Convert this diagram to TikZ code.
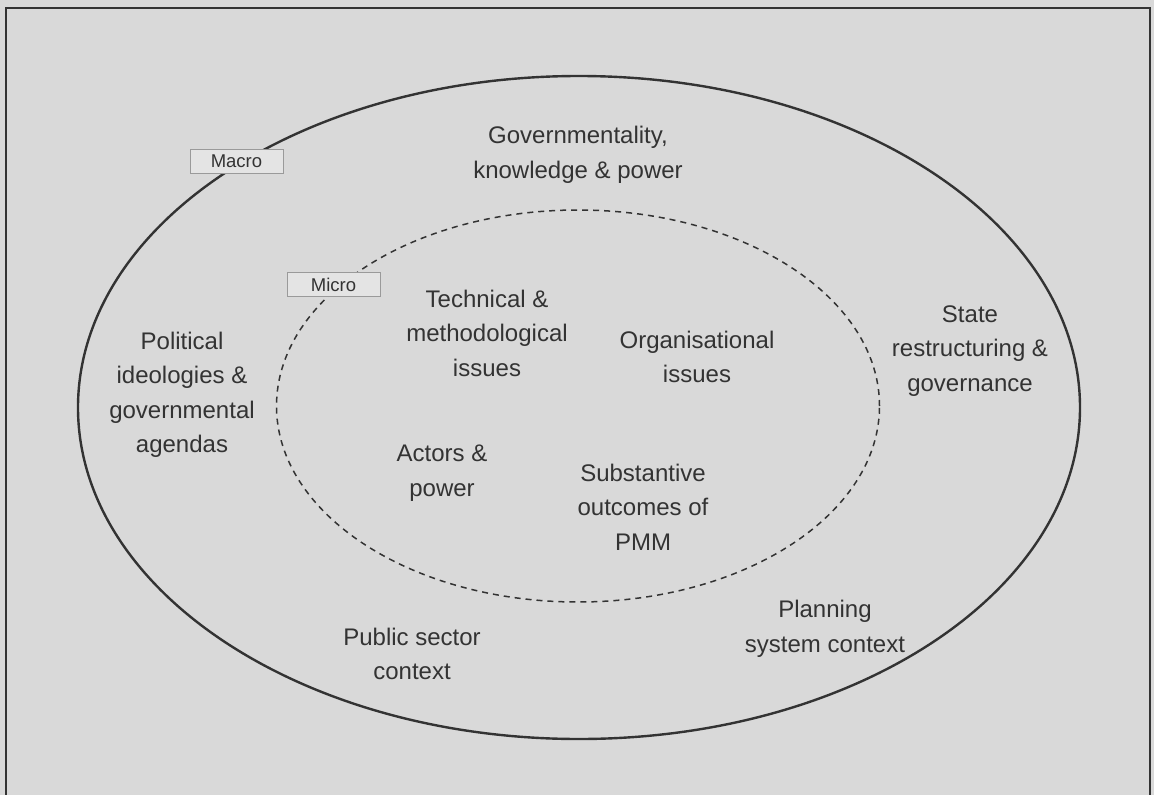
\documentclass[tikz,border=0pt]{standalone}
\usepackage{fontspec}
\setmainfont{Liberation Sans}
\usetikzlibrary{shapes.geometric}
\definecolor{bg}{HTML}{D9D9D9}
\definecolor{ink}{HTML}{333333}
\definecolor{boxfill}{HTML}{E4E4E4}
\definecolor{boxline}{HTML}{9A9A9A}
\begin{document}
\begin{tikzpicture}[x=1pt,y=-1pt,
  lbl/.style={align=center,text=ink,font=\fontsize{24}{34.5}\selectfont,inner sep=0pt},
  tag/.style={draw=boxline,fill=boxfill,text=ink,font=\fontsize{18.5}{20}\selectfont,
    minimum width=93pt,minimum height=24pt,inner sep=0pt,line width=1pt},
  outerring/.style={ellipse,draw=ink,line width=2.4pt,inner sep=0pt},
  innerring/.style={ellipse,draw=ink,line width=1.5pt,dash pattern=on 6pt off 5pt,inner sep=0pt},
  frameline/.style={draw=ink,line width=1.6pt}]
\useasboundingbox (0,0) rectangle (1154,795);
\fill[bg] (0,0) rectangle (1154,795);
\begin{scope}
\clip (0,0) rectangle (1154,795);
\draw[frameline] (6,820) -- (6,8) -- (1150,8) -- (1150,820);
\end{scope}
\node[outerring,minimum width=1002pt,minimum height=663pt] (macroring) at (579,407.5) {};
\node[innerring,minimum width=603pt,minimum height=392pt] (microring) at (578,406) {};
\node[tag] (macro) at (236.5,161) {Macro};
\node[tag] (micro) at (333.5,284.5) {Micro};
\node[lbl] (gov) at (578,155) {Governmentality,\\knowledge \& power};
\node[lbl] (tech) at (487,333) {Technical \&\\methodological\\issues};
\node[lbl] (org) at (697,357) {Organisational\\issues};
\node[lbl] (pol) at (182,395) {Political\\ideologies \&\\governmental\\agendas};
\node[lbl] (state) at (970,351) {State\\restructuring \&\\governance};
\node[lbl] (actors) at (442,473) {Actors \&\\power};
\node[lbl] (subst) at (643,507) {Substantive\\outcomes of\\PMM};
\node[lbl] (public) at (412,654) {Public sector\\context};
\node[lbl] (plan) at (825,629) {Planning\\system context};
\end{tikzpicture}
\end{document}
